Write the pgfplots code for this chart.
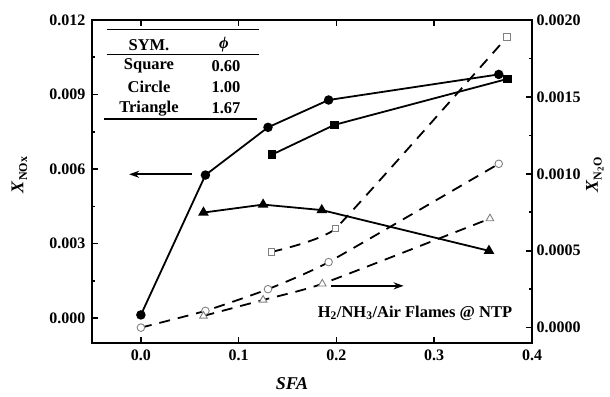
\documentclass[border=0pt]{standalone}
\usepackage{pgfplots}
\pgfplotsset{compat=1.18}
\usetikzlibrary{arrows.meta}
\usepackage{fontspec}
\setmainfont{Liberation Serif}
\begin{document}
\begin{tikzpicture}
\useasboundingbox (-92pt,-53pt) rectangle (518pt,343pt);
\pgfplotsset{
  every axis/.append style={
    scale only axis, width=440pt, height=323pt,
    xmin=-0.05, xmax=0.4,
    tick align=inside,
    axis line style={line width=2pt},
    major tick length=6pt, minor tick length=3.5pt,
    every tick/.style={line width=1.6pt, black},
    tick label style={font=\fontsize{16}{18}\selectfont\bfseries},
    /pgf/number format/assume math mode=true,
    scaled y ticks=false,
    clip=false,
  },
  every axis y label/.style={rotate=90, anchor=center, font=\fontsize{18}{20}\selectfont\bfseries},
  every axis x label/.style={anchor=center, font=\fontsize{18}{20}\selectfont\bfseries},
}
\begin{axis}[
  ymin=-0.001, ymax=0.012,
  ytick={0,0.003,0.006,0.009,0.012},
  minor ytick={0.0015,0.0045,0.0075,0.0105},
  xtick={0,0.1,0.2,0.3,0.4},
  xtick pos=both, xticklabel pos=bottom,
  ytick pos=left,
  x tick label style={/pgf/number format/fixed, /pgf/number format/fixed zerofill, /pgf/number format/precision=1, yshift=-3pt},
  y tick label style={/pgf/number format/fixed, /pgf/number format/fixed zerofill, /pgf/number format/precision=3, xshift=-3pt},
  xlabel={\textit{SFA}},
  xlabel style={at={(axis description cs:0.4545,-0.127)}},
  ylabel={\textit{X}\raisebox{-0.45ex}{\fontsize{12}{12}\selectfont NOx}},
  ylabel style={at={(axis description cs:-0.165,0.52)}},
]
% filled circles phi=1.00
\addplot[line width=1.8pt, mark=*, mark size=3.8pt, mark options={solid, fill=black}]
  coordinates {(0.0,0.00013) (0.066,0.00576) (0.130,0.00768) (0.192,0.00878) (0.366,0.00981)};
% filled squares phi=0.60
\addplot[line width=1.8pt, mark=square*, mark size=3.3pt, mark options={solid, fill=black}]
  coordinates {(0.134,0.00658) (0.198,0.00778) (0.375,0.00963)};
% filled triangles phi=1.67
\addplot[line width=1.8pt, mark=triangle*, mark size=4.4pt, mark options={solid, fill=black}]
  coordinates {(0.064,0.00425) (0.125,0.00457) (0.185,0.00435) (0.356,0.00271)};
% arrows
\draw[line width=1.8pt, -{Stealth[length=10pt,width=7pt]}] (axis cs:0.0526,0.00579) -- (axis cs:-0.012,0.00579);
\draw[line width=1.8pt, -{Stealth[length=10pt,width=7pt]}] (axis cs:0.1947,0.00130) -- (axis cs:0.2687,0.00130);
% table
\draw[line width=1.4pt] (axis description cs:0.0334,0.9700) -- (axis description cs:0.380,0.9700);
\draw[line width=1.4pt] (axis description cs:0.0334,0.8938) -- (axis description cs:0.380,0.8938);
\draw[line width=1.4pt] (axis description cs:0.0270,0.6935) -- (axis description cs:0.375,0.6935);
\begin{scope}[every node/.style={font=\fontsize{16.5}{18}\selectfont\bfseries, anchor=center}]
\node at (axis description cs:0.1295,0.9226) {SYM.};
\node at (axis description cs:0.300,0.9226) {\textit{ϕ}};
\node at (axis description cs:0.1295,0.8585) {Square};
\node at (axis description cs:0.3045,0.8585) {0.60};
\node at (axis description cs:0.1295,0.7916) {Circle};
\node at (axis description cs:0.3045,0.7916) {1.00};
\node at (axis description cs:0.1295,0.7266) {Triangle};
\node at (axis description cs:0.3045,0.7266) {1.67};
\node at (axis description cs:0.734,0.0929) {H\textsubscript{2}/NH\textsubscript{3}/Air Flames @ NTP};
\end{scope}
\end{axis}
\begin{axis}[
  ymin=-0.0001, ymax=0.0020,
  ytick={0,0.0005,0.0010,0.0015,0.0020},
  minor ytick={0.00025,0.00075,0.00125,0.00175},
  axis y line*=right, axis x line=none,
  ytick pos=right,
  y tick label style={/pgf/number format/fixed, /pgf/number format/fixed zerofill, /pgf/number format/precision=4, xshift=1pt},
  ylabel={\textit{X}\raisebox{-0.45ex}{\fontsize{12}{12}\selectfont N\raisebox{-0.35ex}{\fontsize{9}{9}\selectfont 2}O}},
  ylabel style={at={(axis description cs:1.143,0.52)}},
]
% open squares phi=0.60
\addplot[line width=1.8pt, dash pattern=on 11pt off 8pt, smooth, tension=0.2, mark=square*, mark size=3.3pt, mark options={solid, draw=gray, line width=0.9pt, fill=white}]
  coordinates {(0.1335,0.000492) (0.199,0.000644) (0.3746,0.00189)};
% open circles phi=1.00
\addplot[line width=1.8pt, dash pattern=on 11pt off 8pt, smooth, tension=0.3, mark=*, mark size=3.8pt, mark options={solid, draw=gray, line width=0.9pt, fill=white}]
  coordinates {(0.0,0.0) (0.066,0.000109) (0.130,0.00025) (0.192,0.000426) (0.366,0.001065)};
% open triangles phi=1.67
\addplot[line width=1.8pt, dash pattern=on 11pt off 8pt, smooth, tension=0.3, mark=triangle*, mark size=4.4pt, mark options={solid, draw=gray, line width=0.9pt, fill=white}]
  coordinates {(0.064,0.000076) (0.125,0.00018) (0.1855,0.000285) (0.357,0.000709)};
\end{axis}
\end{tikzpicture}
\end{document}
